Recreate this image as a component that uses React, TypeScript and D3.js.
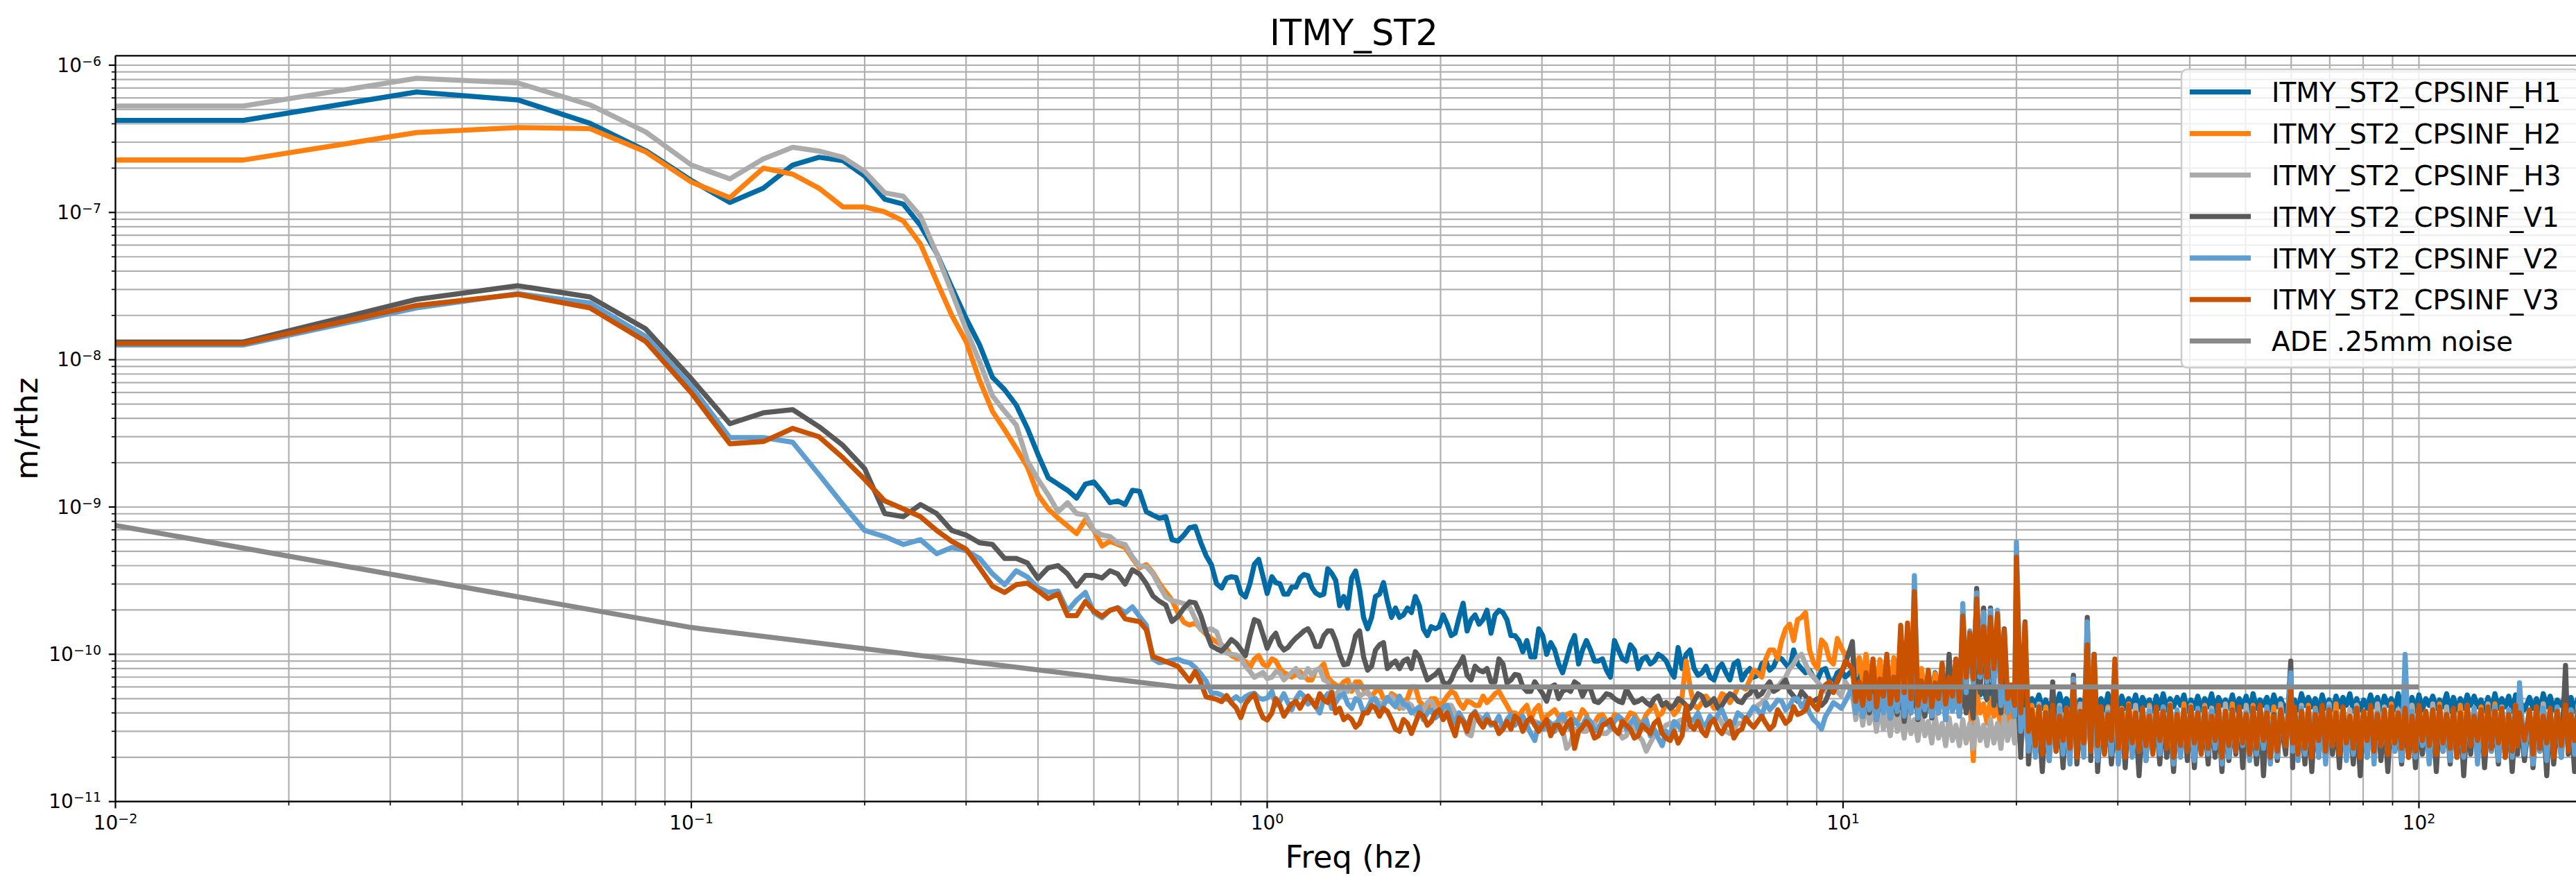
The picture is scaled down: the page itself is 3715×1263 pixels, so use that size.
import React from 'react';
import * as d3 from 'd3';

// ---------------- figure text ----------------
const TITLE = 'ITMY_ST2';
const X_LABEL = 'Freq (hz)';
const Y_LABEL = 'm/rthz';
const X_DOMAIN = [0.01, 200];
const Y_DOMAIN = [1e-11, 1.16e-6];
const X_TICK_EXPONENTS = [-2, -1, 0, 1, 2];
const Y_TICK_EXPONENTS = [-11, -10, -9, -8, -7, -6];

const SERIES_NAMES = [
  'ITMY_ST2_CPSINF_H1',
  'ITMY_ST2_CPSINF_H2',
  'ITMY_ST2_CPSINF_H3',
  'ITMY_ST2_CPSINF_V1',
  'ITMY_ST2_CPSINF_V2',
  'ITMY_ST2_CPSINF_V3',
  'ADE .25mm noise',
];
const SERIES_COLORS = ['#006BA4', '#FF800E', '#ABABAB', '#595959', '#5F9ED1', '#C85200', '#898989'];

// ---------------- frequency grids ----------------
// spectral bins below 1 Hz: k/60 Hz, k = 1..60
const BIN_WIDTH = 1 / 60;
const FREQ_LOW = d3.range(1, 61).map((k) => k * BIN_WIDTH);
// 1 - 10 Hz (Hz)
const FREQ_MID = [
  1.019, 1.052, 1.086, 1.122, 1.158, 1.195, 1.234, 1.274, 1.315, 1.358,
  1.402, 1.447, 1.494, 1.542, 1.592, 1.644, 1.697, 1.752, 1.808, 1.867,
  1.927, 1.989, 2.054, 2.12, 2.189, 2.26, 2.333, 2.408, 2.486, 2.567,
  2.65, 2.735, 2.824, 2.915, 3.009, 3.107, 3.207, 3.311, 3.418, 3.528,
  3.643, 3.761, 3.882, 4.009, 4.138, 4.272, 4.41, 4.553, 4.7, 4.852,
  5.009, 5.171, 5.339, 5.511, 5.69, 5.874, 6.064, 6.26, 6.463, 6.672,
  6.887, 7.111, 7.341, 7.578, 7.823, 8.077, 8.337, 8.607, 8.886, 9.174,
  9.47, 9.775, 10.09,
];
const FREQ_MID_HALF = [
  1.035, 1.069, 1.103, 1.14, 1.177, 1.214, 1.254, 1.294, 1.336, 1.38,
  1.424, 1.47, 1.518, 1.567, 1.617, 1.67, 1.724, 1.78, 1.837, 1.897,
  1.958, 2.021, 2.087, 2.154, 2.224, 2.296, 2.37, 2.447, 2.526, 2.608,
  2.692, 2.779, 2.869, 2.962, 3.057, 3.157, 3.258, 3.364, 3.473, 3.584,
  3.701, 3.821, 3.944, 4.073, 4.204, 4.34, 4.481, 4.626, 4.775, 4.93,
  5.089, 5.254, 5.424, 5.599, 5.781, 5.968, 6.161, 6.36, 6.566, 6.779,
  6.997, 7.225, 7.458, 7.699, 7.948, 8.206, 8.47, 8.745, 9.028, 9.321,
  9.622, 9.931,
];
// 10 - 200 Hz (Hz): local maxima are read at FREQ_HIGH, local minima at FREQ_HIGH_HALF
const FREQ_HIGH = [
  10.38, 10.67, 10.96, 11.27, 11.59, 11.91, 12.25, 12.59, 12.94, 13.3,
  13.68, 14.06, 14.45, 14.86, 15.28, 15.7, 16.14, 16.6, 17.06, 17.54,
  18.03, 18.54, 19.05, 19.59, 20.0, 20.7, 21.28, 21.88, 22.49, 23.12,
  23.77, 24.43, 25.12, 25.82, 26.55, 27.29, 28.05, 28.84, 29.65, 30.48,
  31.33, 32.21, 33.11, 34.04, 34.99, 35.97, 36.98, 38.02, 39.08, 40.18,
  41.3, 42.46, 43.65, 44.87, 46.13, 47.42, 48.75, 50.12, 51.52, 52.97,
  54.45, 55.98, 57.54, 59.9, 60.81, 62.52, 64.27, 66.07, 67.92, 69.82,
  71.78, 73.79, 75.86, 77.98, 80.17, 82.41, 84.72, 87.1, 89.54, 92.04,
  94.62, 97.27, 100.0, 102.8, 105.7, 108.6, 111.7, 114.8, 118.0, 121.3,
  124.7, 128.2, 131.8, 135.5, 139.3, 143.2, 147.2, 149.5, 155.6, 160.0,
  164.4, 169.0, 173.8, 179.7, 183.7, 188.8, 194.1, 199.5,
];
const FREQ_HIGH_HALF = [
  10.52, 10.82, 11.11, 11.43, 11.75, 12.08, 12.42, 12.77, 13.12, 13.49,
  13.87, 14.26, 14.65, 15.07, 15.49, 15.92, 16.36, 16.83, 17.3, 17.78,
  18.28, 18.8, 19.31, 19.86, 20.35, 20.99, 21.58, 22.18, 22.8, 23.44,
  24.1, 24.77, 25.47, 26.18, 26.92, 27.67, 28.44, 29.24, 30.06, 30.9,
  31.77, 32.66, 33.57, 34.51, 35.48, 36.47, 37.49, 38.55, 39.62, 40.74,
  41.87, 43.05, 44.26, 45.49, 46.77, 48.08, 49.43, 50.82, 52.24, 53.71,
  55.21, 56.76, 58.7, 60.35, 61.66, 63.39, 65.16, 66.99, 68.86, 70.79,
  72.78, 74.82, 76.92, 79.07, 81.29, 83.56, 85.9, 88.31, 90.79, 93.32,
  95.94, 98.62, 101.4, 104.2, 107.2, 110.1, 113.3, 116.4, 119.6, 123.0,
  126.4, 130.0, 133.6, 137.4, 141.2, 145.2, 148.3, 152.5, 157.8, 162.2,
  166.7, 171.4, 176.7, 181.7, 186.3, 191.4, 196.8,
];

// ---------------- values ----------------
// below 1 Hz, m/rtHz
const H1_LOW = [4.22e-7, 6.58e-7, 5.81e-7, 4.03e-7, 2.63e-7, 1.65e-7, 1.17e-7, 1.46e-7, 2.1e-7, 2.37e-7, 2.25e-7, 1.77e-7, 1.23e-7, 1.14e-7, 8.16e-8, 5.28e-8, 3.1e-8, 1.91e-8, 1.26e-8, 7.6e-9, 6.26e-9, 4.92e-9, 3.42e-9, 2.27e-9, 1.58e-9, 1.43e-9, 1.3e-9, 1.15e-9, 1.43e-9, 1.48e-9, 1.27e-9, 1.07e-9, 1.1e-9, 1.04e-9, 1.3e-9, 1.28e-9, 9.3e-10, 8.8e-10, 8.4e-10, 8.6e-10, 6.0e-10, 5.87e-10, 6.45e-10, 7.24e-10, 7.38e-10, 5.75e-10, 4.67e-10, 4.06e-10, 3.02e-10, 2.82e-10, 3.28e-10, 3.36e-10, 3.32e-10, 2.61e-10, 2.45e-10, 3.02e-10, 4.09e-10, 4.41e-10, 3.38e-10, 2.59e-10];
const H2_LOW = [2.27e-7, 3.49e-7, 3.77e-7, 3.71e-7, 2.58e-7, 1.61e-7, 1.26e-7, 2.0e-7, 1.82e-7, 1.46e-7, 1.09e-7, 1.09e-7, 1.01e-7, 8.77e-8, 6.1e-8, 3.41e-8, 2.0e-8, 1.33e-8, 7.24e-9, 4.47e-9, 3.34e-9, 2.5e-9, 1.87e-9, 1.21e-9, 9.7e-10, 8.4e-10, 7.45e-10, 6.6e-10, 8.2e-10, 6.93e-10, 5.44e-10, 5.85e-10, 5.57e-10, 5.31e-10, 4.48e-10, 3.87e-10, 4.06e-10, 3.58e-10, 3.02e-10, 2.64e-10, 2.33e-10, 1.91e-10, 1.65e-10, 1.58e-10, 1.63e-10, 1.49e-10, 1.37e-10, 1.28e-10, 1.21e-10, 1.16e-10, 1.09e-10, 9.8e-11, 9.46e-11, 9.28e-11, 8.93e-11, 8.12e-11, 9.28e-11, 9.8e-11, 8.6e-11, 8.27e-11];
const H3_LOW = [5.28e-7, 8.15e-7, 7.57e-7, 5.38e-7, 3.52e-7, 2.1e-7, 1.69e-7, 2.31e-7, 2.77e-7, 2.61e-7, 2.37e-7, 1.9e-7, 1.36e-7, 1.29e-7, 9.44e-8, 5.27e-8, 2.88e-8, 1.61e-8, 9.7e-9, 5.69e-9, 4.47e-9, 3.6e-9, 2.06e-9, 1.54e-9, 1.21e-9, 9.27e-10, 1.07e-9, 9.04e-10, 8.83e-10, 6.93e-10, 6.45e-10, 6.3e-10, 5.71e-10, 5.57e-10, 4.59e-10, 3.97e-10, 3.94e-10, 3.51e-10, 2.9e-10, 2.45e-10, 2.31e-10, 2.27e-10, 2.21e-10, 2.1e-10, 1.74e-10, 1.47e-10, 1.47e-10, 1.49e-10, 1.42e-10, 1.14e-10, 1.02e-10, 1.0e-10, 9.9e-11, 9.46e-11, 8.28e-11, 7.67e-11, 6.98e-11, 7.25e-11, 7.53e-11, 6.84e-11];
const V1_LOW = [1.32e-8, 2.57e-8, 3.18e-8, 2.67e-8, 1.62e-8, 7.43e-9, 3.68e-9, 4.36e-9, 4.58e-9, 3.51e-9, 2.62e-9, 1.82e-9, 9.04e-10, 8.6e-10, 1.04e-9, 9.04e-10, 6.93e-10, 6.45e-10, 5.71e-10, 5.57e-10, 4.48e-10, 4.48e-10, 4.17e-10, 3.27e-10, 3.87e-10, 4.0e-10, 3.52e-10, 2.9e-10, 3.43e-10, 3.43e-10, 3.3e-10, 3.69e-10, 3.52e-10, 3.0e-10, 3.75e-10, 3.51e-10, 3.02e-10, 2.49e-10, 2.29e-10, 2.16e-10, 1.67e-10, 1.81e-10, 2.06e-10, 2.27e-10, 2.24e-10, 1.84e-10, 1.41e-10, 1.14e-10, 1.09e-10, 1.05e-10, 1.14e-10, 1.26e-10, 1.19e-10, 1.08e-10, 9.8e-11, 1.33e-10, 1.72e-10, 1.67e-10, 1.36e-10, 1.1e-10];
const V2_LOW = [1.26e-8, 2.25e-8, 2.81e-8, 2.43e-8, 1.44e-8, 6.58e-9, 2.96e-9, 2.96e-9, 2.75e-9, 1.66e-9, 1.04e-9, 6.93e-10, 6.3e-10, 5.57e-10, 6.0e-10, 4.82e-10, 5.31e-10, 5.06e-10, 4.48e-10, 3.52e-10, 2.97e-10, 3.69e-10, 3.35e-10, 2.83e-10, 2.63e-10, 2.69e-10, 1.97e-10, 2.33e-10, 2.63e-10, 1.92e-10, 1.77e-10, 1.99e-10, 2.08e-10, 1.91e-10, 2.1e-10, 1.81e-10, 1.58e-10, 9.28e-11, 8.77e-11, 8.93e-11, 9.1e-11, 9.28e-11, 8.93e-11, 8.77e-11, 8.12e-11, 7.38e-11, 6.59e-11, 5.45e-11, 5.45e-11, 5.28e-11, 4.95e-11, 4.86e-11, 5.15e-11, 4.82e-11, 5.15e-11, 5.35e-11, 5.45e-11, 5.05e-11, 4.95e-11, 5.05e-11];
const V3_LOW = [1.29e-8, 2.34e-8, 2.78e-8, 2.25e-8, 1.33e-8, 5.97e-9, 2.69e-9, 2.78e-9, 3.42e-9, 3.0e-9, 2.16e-9, 1.54e-9, 1.1e-9, 9.72e-10, 8.6e-10, 6.93e-10, 5.85e-10, 5.18e-10, 3.87e-10, 2.9e-10, 2.63e-10, 2.97e-10, 3.04e-10, 2.7e-10, 2.39e-10, 2.57e-10, 1.83e-10, 1.83e-10, 2.28e-10, 1.97e-10, 1.81e-10, 1.99e-10, 2.06e-10, 1.74e-10, 1.7e-10, 1.67e-10, 1.47e-10, 9.64e-11, 9.28e-11, 8.93e-11, 8.6e-11, 8.27e-11, 7.38e-11, 6.59e-11, 7.67e-11, 6.46e-11, 5.14e-11, 5.05e-11, 4.95e-11, 4.77e-11, 5.25e-11, 4.68e-11, 4.33e-11, 3.72e-11, 4.59e-11, 5.05e-11, 5.35e-11, 4.33e-11, 3.72e-11, 3.58e-11];

// 1 Hz and above, in pm/rtHz (1e-12 m/rtHz)
const PM = 1e-12;
const H1_MID = [336, 301, 256, 286, 348, 286, 251, 381, 318, 247, 330, 275, 149, 247, 307, 178, 178, 206, 247, 149, 154, 154, 160, 139, 222, 172, 160, 199, 185, 192, 134, 124, 124, 96, 134, 120, 86, 93, 134, 107, 107, 90, 78, 124, 93, 116, 80, 96, 90, 96, 78, 111, 100, 80, 75, 70, 80, 75, 86, 67, 80, 72, 90, 83, 93, 80, 86, 75, 70, 78, 67, 75, 70];
const H1_MID_HALF = [307, 256, 286, 330, 342, 261, 256, 355, 214, 206, 368, 178, 178, 256, 230, 206, 185, 192, 214, 134, 149, 185, 134, 178, 144, 185, 172, 139, 199, 172, 134, 104, 96, 149, 100, 107, 75, 116, 86, 124, 90, 93, 70, 107, 90, 107, 93, 86, 100, 90, 70, 80, 107, 72, 83, 67, 86, 67, 90, 75, 70, 86, 78, 96, 86, 107, 80, 78, 67, 80, 65, 78];
const H2_MID = [93, 80, 73, 73, 72, 67, 80, 70, 62, 65, 56, 65, 54, 56, 50, 54, 43, 50, 60, 45, 50, 45, 52, 54, 43, 47, 45, 47, 54, 50, 40, 38, 45, 42, 36, 40, 38, 39, 34, 42, 31, 38, 35, 39, 34, 40, 35, 39, 45, 40, 45, 42, 90, 45, 47, 48, 47, 52, 52, 60, 67, 75, 93, 107, 124, 160, 172, 192, 88, 125, 92, 128, 98];
const H2_MID_HALF = [90, 75, 70, 76, 67, 78, 86, 65, 60, 67, 65, 58, 52, 58, 48, 52, 47, 60, 48, 42, 50, 47, 56, 47, 48, 45, 52, 50, 56, 45, 40, 42, 36, 45, 38, 42, 35, 40, 36, 39, 34, 39, 33, 38, 36, 39, 34, 42, 38, 47, 39, 52, 60, 43, 52, 43, 54, 47, 60, 58, 78, 70, 107, 93, 149, 124, 178, 107, 80, 116, 86, 111];
const H3_MID = [70, 75, 71, 80, 70, 72, 80, 65, 52, 58, 62, 52, 56, 48, 45, 52, 45, 47, 39, 42, 48, 39, 45, 40, 35, 28, 38, 35, 33, 31, 36, 36, 34, 35, 33, 31, 35, 23, 31, 30, 34, 31, 29, 31, 27, 34, 28, 22, 28, 31, 34, 35, 31, 34, 31, 35, 38, 30, 31, 34, 39, 45, 50, 60, 65, 80, 96, 86, 70, 60, 65, 56, 65];
const H3_MID_HALF = [76, 67, 75, 70, 80, 78, 67, 56, 58, 56, 60, 54, 50, 47, 50, 48, 43, 45, 40, 47, 43, 40, 45, 36, 29, 38, 36, 34, 31, 35, 38, 34, 35, 34, 31, 34, 31, 25, 31, 30, 34, 29, 31, 30, 28, 31, 26, 25, 29, 33, 31, 36, 33, 34, 33, 36, 34, 29, 34, 36, 42, 47, 56, 60, 70, 86, 100, 75, 65, 56, 60, 52];
const V1_MID = [129, 116, 111, 129, 144, 134, 113, 144, 124, 85, 104, 144, 78, 107, 120, 86, 80, 93, 104, 80, 70, 78, 62, 78, 96, 67, 78, 80, 65, 86, 67, 72, 56, 65, 54, 60, 50, 58, 65, 52, 58, 47, 54, 50, 47, 52, 48, 47, 50, 45, 43, 50, 45, 48, 52, 47, 43, 50, 52, 47, 54, 52, 60, 56, 62, 56, 48, 52, 48, 45, 56, 65, 86];
const V1_MID_HALF = [139, 107, 120, 136, 149, 113, 134, 144, 100, 86, 134, 96, 83, 116, 80, 90, 90, 80, 96, 67, 73, 65, 67, 85, 72, 83, 76, 65, 93, 64, 73, 60, 56, 59, 48, 62, 56, 56, 62, 59, 48, 50, 53, 48, 58, 47, 50, 45, 52, 47, 45, 48, 43, 54, 45, 50, 45, 54, 48, 52, 60, 54, 65, 58, 67, 52, 56, 47, 50, 48, 60, 75];
const V2_MID = [56, 48, 47, 50, 52, 48, 40, 54, 47, 54, 43, 48, 43, 50, 45, 47, 52, 45, 42, 36, 42, 39, 45, 34, 36, 38, 35, 39, 34, 31, 39, 36, 33, 26, 31, 34, 36, 34, 36, 33, 35, 31, 34, 35, 36, 34, 31, 36, 31, 24, 28, 33, 39, 36, 34, 38, 39, 36, 34, 38, 40, 42, 47, 45, 48, 45, 50, 48, 36, 31, 42, 45, 48];
const V2_MID_HALF = [45, 54, 42, 55, 46, 44, 50, 43, 52, 46, 50, 40, 49, 42, 51, 44, 46, 40, 44, 40, 37, 44, 38, 40, 32, 41, 36, 33, 38, 36, 33, 38, 29, 34, 36, 30, 39, 31, 33, 37, 30, 36, 32, 38, 31, 37, 34, 28, 27, 30, 35, 30, 36, 40, 33, 35, 42, 33, 40, 36, 44, 38, 42, 49, 42, 50, 44, 40, 34, 38, 47, 43];
const V3_MID = [40, 45, 42, 48, 48, 48, 54, 47, 40, 36, 36, 34, 40, 43, 43, 36, 30, 34, 34, 38, 35, 42, 40, 28, 35, 38, 35, 36, 34, 31, 31, 36, 35, 33, 33, 28, 33, 33, 23, 32, 32, 28, 34, 31, 35, 31, 28, 31, 34, 29, 26, 25, 45, 31, 30, 34, 31, 33, 27, 31, 34, 35, 34, 33, 38, 36, 39, 42, 45, 56, 65, 67, 90];
const V3_MID_HALF = [50, 38, 46, 43, 52, 44, 49, 55, 43, 38, 32, 40, 45, 38, 41, 31, 36, 29, 40, 33, 40, 36, 33, 37, 30, 40, 32, 34, 29, 35, 38, 30, 37, 30, 36, 33, 29, 36, 30, 35, 27, 33, 36, 29, 33, 27, 33, 29, 36, 27, 30, 28, 33, 35, 28, 36, 29, 35, 30, 37, 32, 38, 31, 42, 34, 44, 40, 50, 42, 62, 55, 75];

// 10 - 200 Hz: local maxima (at FREQ_HIGH) and local minima (at FREQ_HIGH_HALF), pm/rtHz
const H1_HIGH = [78, 72, 80, 70, 76, 68, 74, 72, 78, 66, 72, 68, 75, 64, 70, 62, 68, 60, 66, 58, 62, 57, 60, 55, 58,
  52, 50, 53, 49, 51, 54, 50, 52, 49, 53, 51, 50, 54, 49, 52, 50, 53, 51, 49, 52, 54, 50, 51, 53, 49, 52, 50, 54, 51, 49, 53, 50, 52, 54, 49, 51, 53, 50, 52, 49, 54, 51, 50, 53, 49, 52, 51, 54, 50, 49, 53, 51, 52, 50, 54, 49, 51, 53, 50, 52, 49, 54, 51, 50, 53, 52, 49, 51, 54, 50, 52, 53, 49, 51, 50, 54, 52, 49, 53, 51, 50, 52, 54];
const H1_HIGH_HALF = [60, 58, 62, 56, 60, 55, 58, 57, 59, 54, 57, 55, 58, 52, 56, 51, 54, 50, 53, 49, 51, 48, 50, 46,
  44, 42, 45, 43, 41, 44, 42, 45, 43, 41, 44, 43, 42, 45, 41, 43, 44, 42, 45, 41, 43, 42, 44, 45, 41, 43, 42, 44, 41, 45, 43, 42, 44, 41, 43, 45, 42, 44, 41, 43, 42, 45, 44, 41, 43, 42, 44, 45, 41, 42, 43, 44, 41, 45, 42, 43, 44, 41, 42, 45, 43, 44, 41, 42, 43, 45, 44, 41, 42, 43, 44, 41, 45, 42, 43, 41, 44, 42, 45, 43, 41, 44, 42];
const H2_HIGH = [110, 95, 100, 88, 92, 85, 95, 80, 88, 75, 80, 70, 74, 62, 68, 58, 60, 50, 55, 46, 50, 44, 48, 42, 45,
  42, 45, 40, 44, 46, 41, 43, 39, 45, 42, 46, 40, 44, 41, 43, 46, 39, 42, 45, 40, 44, 43, 41, 46, 42, 39, 45, 43, 40, 44, 46, 41, 42, 45, 39, 43, 44, 40, 46, 42, 41, 45, 43, 39, 44, 46, 40, 42, 45, 41, 43, 44, 39, 46, 42, 40, 45, 43, 41, 44, 46, 39, 42, 45, 40, 43, 44, 41, 46, 42, 39, 45, 43, 40, 44, 46, 41, 42, 45, 39, 43, 44, 40];
const H2_HIGH_HALF = [72, 65, 70, 60, 66, 58, 64, 55, 60, 52, 56, 48, 52, 45, 48, 42, 44, 19, 40, 34, 38, 32, 35, 30,
  26, 24, 27, 23, 25, 28, 22, 26, 24, 27, 23, 25, 28, 24, 22, 26, 27, 23, 25, 24, 28, 22, 26, 25, 23, 27, 24, 28, 22, 25, 26, 23, 27, 24, 22, 28, 25, 26, 23, 24, 27, 22, 25, 28, 26, 23, 24, 27, 22, 25, 26, 28, 23, 24, 27, 25, 22, 26, 28, 23, 24, 25, 27, 22, 26, 23, 28, 24, 25, 27, 22, 26, 23, 24, 28, 25, 27, 22, 26, 23, 24, 28, 25];
const H3_HIGH = [54, 48, 50, 44, 46, 40, 44, 38, 42, 36, 40, 35, 38, 34, 37, 33, 36, 34, 37, 33, 36, 34, 38, 35, 40,
  44, 41, 46, 39, 43, 45, 40, 42, 46, 38, 44, 41, 43, 46, 39, 42, 45, 40, 44, 43, 38, 46, 41, 42, 45, 39, 44, 43, 40, 46, 42, 38, 45, 41, 44, 43, 39, 46, 40, 42, 45, 41, 38, 44, 46, 40, 43, 42, 45, 39, 41, 46, 44, 40, 42, 38, 45, 43, 41, 46, 39, 44, 42, 40, 45, 43, 38, 46, 41, 44, 42, 39, 45, 40, 43, 46, 41, 38, 44, 42, 45, 40, 43];
const H3_HIGH_HALF = [36, 33, 34, 30, 31, 28, 30, 27, 29, 26, 28, 25, 27, 24, 26, 24, 25, 23, 26, 24, 25, 23, 26, 25,
  23, 26, 22, 25, 24, 27, 23, 22, 26, 24, 25, 27, 22, 23, 26, 24, 27, 25, 22, 24, 23, 26, 27, 22, 25, 24, 23, 27, 26, 22, 24, 25, 23, 27, 22, 26, 24, 23, 25, 27, 22, 24, 26, 23, 25, 22, 27, 24, 26, 23, 22, 25, 27, 24, 23, 26, 22, 25, 24, 27, 23, 26, 22, 24, 25, 27, 23, 22, 26, 24, 25, 23, 27, 22, 24, 26, 25, 23, 27, 22, 24, 26, 23];
const V1_HIGH = [122, 62, 58, 64, 55, 60, 52, 62, 56, 64, 54, 60, 58, 65, 100, 56, 62, 55, 280, 206, 206, 60, 149, 55, 90,
  166, 38, 36, 40, 65, 37, 39, 72, 35, 178, 100, 38, 40, 36, 39, 41, 35, 38, 40, 37, 41, 34, 39, 36, 40, 38, 35, 41, 37, 39, 36, 40, 38, 35, 41, 37, 39, 36, 90, 40, 34, 38, 41, 36, 39, 37, 40, 35, 38, 41, 36, 39, 37, 40, 34, 41, 38, 36, 39, 37, 40, 35, 41, 38, 36, 39, 40, 37, 35, 41, 38, 36, 39, 40, 34, 37, 41, 36, 84, 38, 40, 37, 39];
const V1_HIGH_HALF = [42, 38, 40, 36, 41, 37, 39, 35, 40, 36, 38, 37, 40, 36, 42, 38, 40, 37, 55, 50, 45, 40, 42, 38,
  20, 18, 21, 16, 19, 22, 17, 20, 18, 21, 19, 16, 22, 18, 20, 17, 21, 15, 19, 22, 18, 20, 16, 21, 19, 17, 22, 18, 20, 16, 19, 21, 17, 22, 18, 15, 20, 19, 21, 17, 22, 18, 16, 20, 19, 21, 17, 22, 18, 15, 20, 21, 19, 16, 22, 18, 20, 17, 21, 19, 16, 22, 18, 20, 15, 21, 19, 17, 22, 18, 20, 16, 21, 19, 17, 22, 15, 18, 20, 21, 16, 19, 22];
const V2_HIGH = [60, 54, 58, 52, 60, 55, 57, 80, 56, 342, 54, 58, 52, 60, 55, 58, 221, 144, 261, 192, 199, 199, 60, 52, 577,
  42, 38, 44, 40, 36, 43, 39, 68, 41, 166, 37, 44, 40, 75, 38, 42, 36, 43, 41, 39, 44, 37, 42, 40, 38, 43, 36, 41, 44, 39, 42, 37, 40, 43, 38, 44, 36, 41, 75, 39, 43, 37, 42, 40, 44, 38, 41, 36, 43, 39, 42, 40, 37, 44, 38, 100, 41, 43, 36, 40, 44, 39, 42, 37, 41, 43, 38, 40, 44, 36, 42, 39, 64, 41, 37, 43, 40, 44, 38, 42, 36, 41, 43];
const V2_HIGH_HALF = [40, 38, 42, 36, 40, 37, 41, 38, 40, 37, 42, 38, 40, 36, 41, 38, 55, 60, 70, 65, 60, 45, 40, 38,
  30, 22, 20, 24, 19, 23, 21, 18, 24, 20, 22, 19, 23, 21, 18, 24, 20, 22, 19, 23, 21, 24, 18, 20, 22, 19, 24, 21, 23, 18, 20, 22, 24, 19, 21, 23, 18, 20, 24, 22, 19, 21, 23, 20, 18, 24, 22, 19, 21, 23, 20, 18, 24, 21, 22, 19, 23, 20, 24, 18, 21, 22, 19, 23, 20, 24, 18, 21, 22, 19, 23, 20, 24, 21, 18, 22, 19, 23, 20, 24, 21, 18, 22];
const V3_HIGH = [80, 65, 75, 93, 68, 100, 70, 157, 163, 265, 66, 78, 64, 87, 70, 93, 182, 139, 238, 154, 178, 188, 146, 62, 456,
  163, 42, 44, 40, 45, 38, 43, 62, 41, 116, 100, 44, 39, 93, 42, 45, 40, 43, 38, 44, 41, 45, 39, 42, 44, 40, 43, 38, 45, 41, 42, 44, 39, 43, 45, 40, 38, 42, 58, 44, 41, 43, 39, 45, 42, 40, 44, 38, 43, 41, 45, 39, 42, 44, 40, 43, 38, 45, 41, 42, 44, 39, 43, 40, 45, 38, 42, 44, 41, 43, 39, 45, 40, 42, 44, 38, 43, 41, 45, 39, 42, 44, 40];
const V3_HIGH_HALF = [48, 45, 50, 44, 52, 46, 49, 55, 50, 45, 48, 44, 50, 46, 52, 48, 70, 68, 75, 70, 80, 65, 50, 45,
  40, 30, 24, 21, 25, 22, 26, 23, 20, 25, 22, 24, 21, 26, 23, 20, 25, 22, 24, 21, 26, 23, 20, 24, 22, 25, 21, 23, 26, 20, 24, 22, 25, 21, 23, 26, 20, 22, 24, 25, 21, 23, 20, 26, 22, 24, 21, 25, 23, 20, 26, 22, 24, 21, 25, 23, 20, 22, 26, 24, 21, 25, 23, 20, 22, 24, 26, 21, 23, 25, 20, 22, 24, 26, 21, 23, 25, 20, 24, 22, 26, 21, 23];

// ADE .25mm noise model (m/rtHz)
const ADE_FREQ = [0.01, 0.1, 0.7, 100];
const ADE_VALUES = [7.5e-10, 1.52e-10, 6.0e-11, 6.0e-11];

// ---------------- layout ----------------
const W = 3715;
const H = 1263;
const PLOT = { left: 166.5, right: 3738.5, top: 80.3, bottom: 1155.7 };
const FONT = "'DejaVu Sans', 'Liberation Sans', sans-serif";

type Pt = { f: number; v: number };

function buildSeries(
  low: number[],
  mid: number[],
  midHalf: number[],
  high: number[],
  highHalf: number[]
): Pt[] {
  const pts: Pt[] = [];
  // DC bin sits far left on the log axis, giving a flat run to the first bin
  pts.push({ f: X_DOMAIN[0] / 10, v: low[0] });
  low.forEach((v, i) => pts.push({ f: FREQ_LOW[i], v }));
  const upper: Pt[] = [];
  mid.forEach((v, i) => upper.push({ f: FREQ_MID[i], v: v * PM }));
  midHalf.forEach((v, i) => upper.push({ f: FREQ_MID_HALF[i], v: v * PM }));
  high.forEach((v, i) => upper.push({ f: FREQ_HIGH[i], v: v * PM }));
  highHalf.forEach((v, i) => upper.push({ f: FREQ_HIGH_HALF[i], v: v * PM }));
  upper.sort((a, b) => a.f - b.f);
  return pts.concat(upper);
}

export default function App() {
  const x = d3.scaleLog().domain(X_DOMAIN).range([PLOT.left, PLOT.right]);
  const y = d3.scaleLog().domain(Y_DOMAIN).range([PLOT.bottom, PLOT.top]);

  const series: Pt[][] = [
    buildSeries(H1_LOW, H1_MID, H1_MID_HALF, H1_HIGH, H1_HIGH_HALF),
    buildSeries(H2_LOW, H2_MID, H2_MID_HALF, H2_HIGH, H2_HIGH_HALF),
    buildSeries(H3_LOW, H3_MID, H3_MID_HALF, H3_HIGH, H3_HIGH_HALF),
    buildSeries(V1_LOW, V1_MID, V1_MID_HALF, V1_HIGH, V1_HIGH_HALF),
    buildSeries(V2_LOW, V2_MID, V2_MID_HALF, V2_HIGH, V2_HIGH_HALF),
    buildSeries(V3_LOW, V3_MID, V3_MID_HALF, V3_HIGH, V3_HIGH_HALF),
    ADE_FREQ.map((f, i) => ({ f, v: ADE_VALUES[i] })),
  ];

  const line = d3
    .line<Pt>()
    .x((d) => x(d.f))
    .y((d) => y(d.v));

  const xAll: { v: number; major: boolean }[] = [];
  for (let e = -2; e <= 2; e++) {
    for (let m = 1; m <= 9; m++) {
      const v = m * Math.pow(10, e);
      if (v >= X_DOMAIN[0] - 1e-12 && v <= X_DOMAIN[1] + 1e-9) xAll.push({ v, major: m === 1 });
    }
  }
  const yAll: { v: number; major: boolean }[] = [];
  for (let e = -11; e <= -6; e++) {
    for (let m = 1; m <= 9; m++) {
      const v = m * Math.pow(10, e);
      if (v >= Y_DOMAIN[0] * 0.999999 && v <= Y_DOMAIN[1]) yAll.push({ v, major: m === 1 });
    }
  }

  const gridColor = '#b0b0b0';
  const gridW = 2.2;
  const lw = 7.3;
  const majorLen = 9.7;
  const minorLen = 5.6;

  const legendX = 3146;
  const legendY = 100;
  const legendW = 573;
  const legendH = 430;
  const rowY0 = 132.7;
  const rowDy = 59.83;

  return (
    <svg
      width={W}
      height={H}
      viewBox={`0 0 ${W} ${H}`}
      style={{ position: 'absolute', left: 0, top: 0, display: 'block', background: '#fff' }}
      fontFamily={FONT}
    >
      <defs>
        <clipPath id="plot-clip">
          <rect x={PLOT.left} y={PLOT.top} width={PLOT.right - PLOT.left} height={PLOT.bottom - PLOT.top} />
        </clipPath>
      </defs>
      <rect x={0} y={0} width={W} height={H} fill="#ffffff" />

      {/* grid */}
      <g stroke={gridColor} strokeWidth={gridW}>
        {xAll.map((t, i) => (
          <line key={'gx' + i} x1={x(t.v)} x2={x(t.v)} y1={PLOT.top} y2={PLOT.bottom} />
        ))}
        {yAll.map((t, i) => (
          <line key={'gy' + i} x1={PLOT.left} x2={PLOT.right} y1={y(t.v)} y2={y(t.v)} />
        ))}
      </g>

      {/* ticks */}
      <g stroke="#000">
        {xAll.map((t, i) => (
          <line
            key={'tx' + i}
            x1={x(t.v)}
            x2={x(t.v)}
            y1={PLOT.bottom}
            y2={PLOT.bottom + (t.major ? majorLen : minorLen)}
            strokeWidth={t.major ? 2.2 : 1.67}
          />
        ))}
        {yAll.map((t, i) => (
          <line
            key={'ty' + i}
            x1={PLOT.left - (t.major ? majorLen : minorLen)}
            x2={PLOT.left}
            y1={y(t.v)}
            y2={y(t.v)}
            strokeWidth={t.major ? 2.2 : 1.67}
          />
        ))}
      </g>

      {/* data */}
      <g clipPath="url(#plot-clip)" fill="none" strokeLinejoin="round" strokeLinecap="butt">
        {series.map((pts, i) => (
          <path key={'s' + i} d={line(pts) || ''} stroke={SERIES_COLORS[i]} strokeWidth={lw} />
        ))}
      </g>

      {/* spines */}
      <g stroke="#000" strokeWidth={2.2} fill="none">
        <line x1={PLOT.left} x2={PLOT.left} y1={PLOT.top} y2={PLOT.bottom} />
        <line x1={PLOT.left} x2={PLOT.right} y1={PLOT.bottom} y2={PLOT.bottom} />
        <line x1={PLOT.left} x2={PLOT.right} y1={PLOT.top} y2={PLOT.top} />
        <line x1={PLOT.right} x2={PLOT.right} y1={PLOT.top} y2={PLOT.bottom} />
      </g>

      {/* tick labels */}
      <g fontSize={28} fill="#000">
        {X_TICK_EXPONENTS.map((e) => (
          <text key={'lx' + e} x={x(Math.pow(10, e))} y={1196} textAnchor="middle">
            10
            <tspan fontSize={19} dy={-9}>
              {e < 0 ? '\u2212' + Math.abs(e) : String(e)}
            </tspan>
          </text>
        ))}
        {Y_TICK_EXPONENTS.map((e) => (
          <text key={'ly' + e} x={146} y={y(Math.pow(10, e)) + 9.7} textAnchor="end">
            10
            <tspan fontSize={19} dy={-9}>
              {'\u2212' + Math.abs(e)}
            </tspan>
          </text>
        ))}
      </g>

      {/* title & axis labels */}
      <text x={(PLOT.left + PLOT.right) / 2} y={65} textAnchor="middle" fontSize={51} fill="#000">
        {TITLE}
      </text>
      <text x={(PLOT.left + PLOT.right) / 2} y={1251} textAnchor="middle" fontSize={45} fill="#000">
        {X_LABEL}
      </text>
      <text
        transform={`translate(54, ${(PLOT.top + PLOT.bottom) / 2}) rotate(-90)`}
        textAnchor="middle"
        fontSize={45}
        fill="#000"
      >
        {Y_LABEL}
      </text>

      {/* legend */}
      <g>
        <rect
          x={legendX}
          y={legendY}
          width={legendW}
          height={legendH}
          rx={8}
          ry={8}
          fill="#ffffff"
          fillOpacity={0.8}
          stroke="#cccccc"
          strokeWidth={2.5}
        />
        {SERIES_NAMES.map((name, i) => {
          const cy = rowY0 + i * rowDy;
          return (
            <g key={'lg' + i}>
              <line x1={3158} x2={3246} y1={cy} y2={cy} stroke={SERIES_COLORS[i]} strokeWidth={lw} />
              <text x={3276} y={cy + 14.6} fontSize={39} fill="#000">
                {name}
              </text>
            </g>
          );
        })}
      </g>
    </svg>
  );
}
